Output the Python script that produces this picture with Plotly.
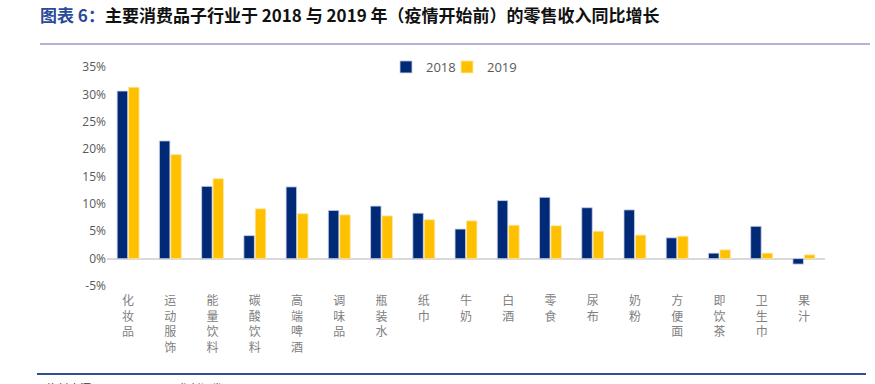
import plotly.graph_objects as go

categories = ["化妆品", "运动服饰", "能量饮料", "碳酸饮料", "高端啤酒", "调味品", "瓶装水", "纸巾",
              "牛奶", "白酒", "零食", "尿布", "奶粉", "方便面", "即饮茶", "卫生巾", "果汁"]
growth_2018 = [30.6, 21.5, 13.2, 4.2, 13.1, 8.8, 9.6, 8.3, 5.4, 10.6, 11.2, 9.3, 8.9, 3.8, 1.0, 5.9, -1.0]
growth_2019 = [31.3, 19.0, 14.6, 9.1, 8.2, 8.0, 7.8, 7.1, 6.9, 6.1, 6.0, 5.0, 4.3, 4.1, 1.6, 1.0, 0.7]
y_ticks = [-5, 0, 5, 10, 15, 20, 25, 30, 35]
y_tick_labels = [f"{v}%" for v in y_ticks]

W, H = 875, 384
L, R, T, B = 107, 825, 67, 286

def px_x(px):
    return (px - L) / (R - L)

def px_y(py):
    return (B - py) / (B - T)

stacked = ["<br>".join(list(c)) for c in categories]

fig = go.Figure()
fig.add_trace(go.Bar(x=stacked, y=growth_2018, name="2018", legend="legend",
                     marker=dict(color="#002A78", line=dict(color="#c9d1e6", width=0.8))))
fig.add_trace(go.Bar(x=stacked, y=growth_2019, name="2019", legend="legend2",
                     marker=dict(color="#FFC000", line=dict(color="#fbe7a8", width=0.8))))

legend_font = dict(family="Open Sans", size=13, color="#595959")
fig.update_layout(
    width=W, height=H,
    margin=dict(l=L, r=W - R, t=T, b=H - B, autoexpand=False),
    paper_bgcolor="white", plot_bgcolor="white",
    barmode="group", bargap=0.46, bargroupgap=0.08,
    font=dict(family="Noto Sans CJK SC", color="#595959"),
    showlegend=True,
    legend=dict(orientation="h", x=px_x(386), y=px_y(52), xanchor="left", yanchor="top",
                font=legend_font, itemwidth=30, bgcolor="rgba(0,0,0,0)"),
    legend2=dict(orientation="h", x=px_x(447), y=px_y(52), xanchor="left", yanchor="top",
                 font=legend_font, itemwidth=30, bgcolor="rgba(0,0,0,0)"),
    xaxis=dict(showgrid=False, showline=False, ticks="", ticklabelstandoff=6,
               tickfont=dict(family="Noto Sans CJK SC", size=12, color="#808080"),
               tickangle=0),
    yaxis=dict(range=[-5, 35], tickvals=y_ticks, ticktext=y_tick_labels, showgrid=False,
               zeroline=True, zerolinecolor="#d9d9d9", zerolinewidth=2,
               showline=False, ticks="",
               tickfont=dict(family="Open Sans", size=12, color="#595959")),
)

# title
fig.add_annotation(xref="paper", yref="paper", x=px_x(38), y=px_y(0), xanchor="left", yanchor="top",
                   showarrow=False,
                   text="<b><span style='color:#2a4a9a'>图表 6：</span>主要消费品子行业于 2018 与 2019 年（疫情开始前）的零售收入同比增长</b>",
                   font=dict(family="Noto Sans CJK SC", size=17, color="#111111"))
# decorative lines
fig.add_shape(type="line", xref="paper", yref="paper", x0=px_x(40), x1=px_x(870), y0=px_y(44), y1=px_y(44),
              line=dict(color="#b3b3d6", width=2))
fig.add_shape(type="line", xref="paper", yref="paper", x0=px_x(37), x1=px_x(866), y0=px_y(374), y1=px_y(374),
              line=dict(color="#2f4f8f", width=2))
# source (cut off at bottom, as in the reference)
fig.add_annotation(xref="paper", yref="paper", x=px_x(45), y=px_y(378), xanchor="left", yanchor="top",
                   showarrow=False, text="资料来源：Euromonitor，华创证券",
                   font=dict(family="Noto Sans CJK SC", size=11, color="#333333"))

fig.write_html("out.html", config={"displayModeBar": False},
               post_script="document.body.style.margin='0';document.body.style.padding='0';")
